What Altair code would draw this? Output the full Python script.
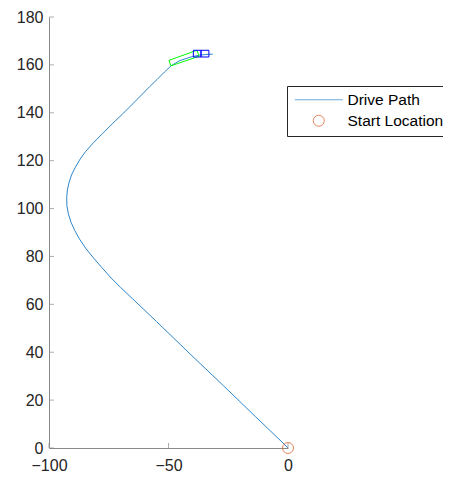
import altair as alt
import pandas as pd

# Drive path (metres)
path_x = [0, -2, -13.5, -27, -41, -55, -65, -70, -74, -78, -81.5, -84.7, -87.2, -89.2, -90.8,
          -91.9, -92.5, -92.6, -92.3, -91.6, -90.6, -89.1, -87.2, -84.8, -81.4, -77.5, -73.2,
          -68.8, -63.4, -57.9, -54.8, -51.6, -48.7, -45.2, -41, -37, -33.3, -31.5]
path_y = [0, 2, 13, 26, 39.3, 52.8, 62.3, 67, 71, 75.5, 79.5, 83.5, 87.2, 90.8, 94.3,
          97.8, 101.2, 104.5, 107.8, 110.9, 114, 117, 120.3, 123.7, 127.5, 131.4, 135.7,
          139.9, 145.3, 150.9, 153.9, 157.1, 159.8, 161.8, 163.2, 164.1, 164.4, 164.5]

# Vehicle body outline (green) and two blue boxes
body_x = [-49.8, -49.0, -37.2, -38.1, -49.8]
body_y = [161.9, 159.6, 163.6, 166.1, 161.9]
box1_x = [-39.6, -36.4, -36.4, -39.6, -39.6]
box1_y = [163.3, 163.3, 166.1, 166.1, 163.3]
box2_x = [-36.4, -33.1, -33.1, -36.4, -36.4]
box2_y = [163.3, 163.3, 166.1, 166.1, 163.3]

start_x = [0]
start_y = [0]

series_names = ["Drive Path", "Start Location"]
series_colors = ["#2f86c8", "#D95319"]
series_shapes = ["M-4.36,0H4.36", "circle"]

x_ticks = [-100, -50, 0]
y_ticks = [0, 20, 40, 60, 80, 100, 120, 140, 160, 180]

AXIS = "#8a8a8a"

path_df = pd.DataFrame({"x": path_x, "y": path_y, "i": range(len(path_x))})
body_df = pd.DataFrame({"x": body_x, "y": body_y, "i": range(len(body_x))})
box_df = pd.DataFrame({
    "x": box1_x + box2_x,
    "y": box1_y + box2_y,
    "i": list(range(len(box1_x))) + list(range(len(box2_x))),
    "g": ["a"] * len(box1_x) + ["b"] * len(box2_x),
})
start_df = pd.DataFrame({"x": start_x, "y": start_y, "series": ["Start Location"]})

xs = alt.Scale(domain=[-100, 0], nice=False, zero=False)
ys = alt.Scale(domain=[0, 180], nice=False, zero=False)

X = alt.X("x:Q", scale=xs,
          axis=alt.Axis(values=x_ticks, title=None, grid=False, ticks=False,
                        labelPadding=9, labelFlush=False))
Y = alt.Y("y:Q", scale=ys,
          axis=alt.Axis(values=y_ticks, title=None, grid=False, ticks=False,
                        labelPadding=6, labelFlush=False))

path = alt.Chart(path_df).mark_line(color=series_colors[0], strokeWidth=1).encode(
    x=X, y=Y, order="i:Q")

body = alt.Chart(body_df).mark_line(color="#00ff00", strokeWidth=1).encode(
    x="x:Q", y="y:Q", order="i:Q")

boxes = alt.Chart(box_df).mark_line(color="#0000ff", strokeWidth=1).encode(
    x="x:Q", y="y:Q", order="i:Q", detail="g:N")

start = alt.Chart(start_df).mark_point(filled=False, strokeWidth=1, size=121).encode(
    x="x:Q", y="y:Q",
    color=alt.Color("series:N", scale=alt.Scale(domain=series_names, range=series_colors),
                    legend=alt.Legend(title=None, orient="none", legendX=238, legendY=69,
                                      strokeColor="#262626", fillColor="white",
                                      padding=6, labelFontSize=15.5, labelFont="Liberation Sans",
                                      labelColor="#000000", symbolOffset=18, labelOffset=21,
                                      rowPadding=4, symbolSize=121, symbolStrokeWidth=1)),
    shape=alt.Shape("series:N", scale=alt.Scale(domain=series_names, range=series_shapes)),
)

ytick_df = pd.DataFrame({"y": y_ticks, "x": [-100] * len(y_ticks)})
xtick_df = pd.DataFrame({"x": x_ticks, "y": [0] * len(x_ticks)})
yticks = alt.Chart(ytick_df).mark_tick(orient="horizontal", size=5, thickness=1,
                                      xOffset=2.5, color=AXIS).encode(x="x:Q", y="y:Q")
xticks = alt.Chart(xtick_df).mark_tick(orient="vertical", size=5, thickness=1,
                                      yOffset=-2.5, color=AXIS).encode(x="x:Q", y="y:Q")

chart = alt.layer(path, body, boxes, yticks, xticks, start).properties(
    width=239, height=431,
    background="white",
    autosize=alt.AutoSizeParams(type="none"),
    padding={"left": 41, "top": 9, "right": 155, "bottom": 25},
).configure_view(stroke=None).configure_axis(
    domainColor=AXIS, labelColor="#262626", labelFont="Liberation Sans", labelFontSize=16,
)

chart.save("out.html", embed_options={"renderer": "svg", "actions": False})
